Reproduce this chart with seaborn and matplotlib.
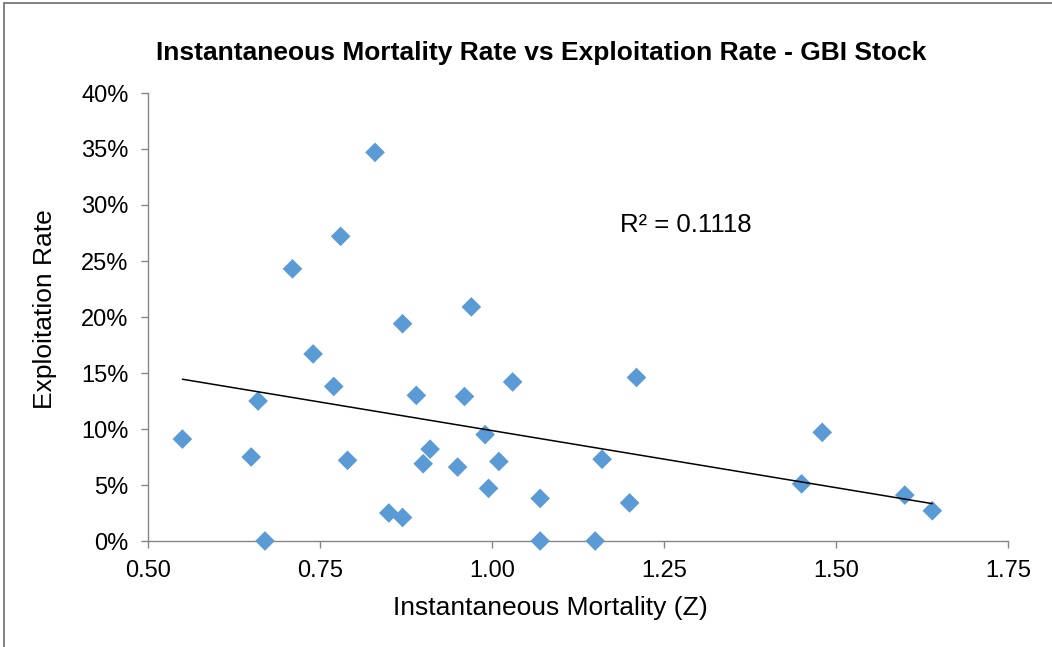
import numpy as np
import pandas as pd
import matplotlib
matplotlib.use("Agg")
import matplotlib.pyplot as plt
import seaborn as sns
from matplotlib.ticker import PercentFormatter, FixedLocator, FormatStrFormatter
from matplotlib.patches import Rectangle

mortality_z = [0.55, 0.65, 0.66, 0.67, 0.71, 0.74, 0.77, 0.78, 0.79, 0.83,
               0.85, 0.87, 0.87, 0.89, 0.90, 0.91, 0.95, 0.96, 0.97, 0.99,
               0.995, 1.01, 1.03, 1.07, 1.07, 1.15, 1.16, 1.20, 1.21, 1.45,
               1.48, 1.60, 1.64]
exploitation = [9.1, 7.5, 12.5, 0.0, 24.3, 16.7, 13.8, 27.2, 7.2, 34.7,
                2.5, 2.1, 19.4, 13.0, 6.9, 8.2, 6.6, 12.9, 20.9, 9.5,
                4.7, 7.1, 14.2, 3.8, 0.0, 0.0, 7.3, 3.4, 14.6, 5.1,
                9.7, 4.1, 2.7]
x_ticks = [0.50, 0.75, 1.00, 1.25, 1.50, 1.75]
y_ticks = [0, 5, 10, 15, 20, 25, 30, 35, 40]
title = "Instantaneous Mortality Rate vs Exploitation Rate - GBI Stock"
r2_label = "R² = 0.1118"

df = pd.DataFrame({"Z": mortality_z, "E": exploitation})

sns.set_theme(style="white")
plt.rcParams['font.family'] = ['Liberation Sans', 'DejaVu Sans']

fig = plt.figure(figsize=(10.52, 6.47), dpi=100)
W, H = 1052, 647
ax = fig.add_axes([148 / W, 1 - 541 / H, (1008 - 148) / W, (541 - 93) / H])

sns.scatterplot(data=df, x="Z", y="E", ax=ax, marker="D", s=100,
                color="#5B9BD5", edgecolor="none", zorder=3, clip_on=False)

coef = np.polyfit(df["Z"], df["E"], 1)
xs = np.array([min(mortality_z), max(mortality_z)])
ax.plot(xs, np.polyval(coef, xs), color="black", lw=1.1, zorder=4)

ax.set_xlim(0.5, 1.75)
ax.set_ylim(0, 40)
ax.xaxis.set_major_locator(FixedLocator(x_ticks))
ax.yaxis.set_major_locator(FixedLocator(y_ticks))
ax.xaxis.set_major_formatter(FormatStrFormatter("%.2f"))
ax.yaxis.set_major_formatter(PercentFormatter(decimals=0))

for s in ["top", "right"]:
    ax.spines[s].set_visible(False)
for s in ["left", "bottom"]:
    ax.spines[s].set_color("#868686")
    ax.spines[s].set_linewidth(1.0)
ax.tick_params(axis="both", which="major", direction="out", length=5,
               width=1.0, color="#868686", labelsize=17, labelcolor="black",
               bottom=True, left=True)
ax.tick_params(axis="y", pad=9)
ax.tick_params(axis="x", pad=9)

ax.set_xlabel("Instantaneous Mortality (Z)", fontsize=19, color="black")
ax.set_ylabel("Exploitation Rate", fontsize=19, color="black")
ax.xaxis.set_label_coords((550 - 148) / 860, (541 - 608) / 448, transform=ax.transAxes)
ax.xaxis.label.set_va("center")
ax.yaxis.set_label_coords((45 - 148) / 860, (541 - 309) / 448, transform=ax.transAxes)
ax.yaxis.label.set_va("center")

fig.text(541 / W, 1 - 53 / H, title, ha="center", va="center",
         fontsize=19, fontweight="bold", color="black")
ax.text(1.186, 28.2, r2_label, fontsize=18.5, color="black", va="center")

fig.patches.append(Rectangle((4 / W, -0.01), 1.2, 1 - 3 / H + 0.01,
                             transform=fig.transFigure, fill=False,
                             edgecolor="#6d6d6d", lw=1.2))

fig.savefig("out.png", dpi=100)
